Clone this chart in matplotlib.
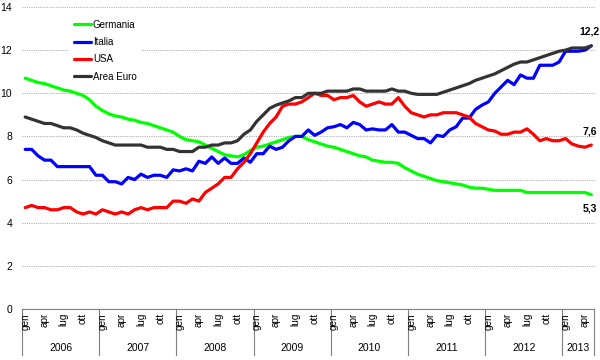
import matplotlib
matplotlib.use('Agg')
import matplotlib.pyplot as plt
from matplotlib.transforms import blended_transform_factory

plt.rcParams['font.family'] = ['Liberation Sans', 'DejaVu Sans']

years = [2006, 2007, 2008, 2009, 2010, 2011, 2012, 2013]
months_in_year = [12, 12, 12, 12, 12, 12, 12, 5]
month_names = ['gen', 'feb', 'mar', 'apr', 'mag', 'giu', 'lug', 'ago', 'set', 'ott', 'nov', 'dic']
shown_months = ['gen', 'apr', 'lug', 'ott']
y_ticks = [0, 2, 4, 6, 8, 10, 12, 14]

germania = [
    10.7, 10.6, 10.5, 10.45, 10.35, 10.25, 10.15, 10.1, 10.0, 9.9, 9.7, 9.4,
    9.2, 9.05, 8.95, 8.9, 8.8, 8.75, 8.65, 8.6, 8.5, 8.4, 8.3, 8.2,
    8.0, 7.85, 7.8, 7.75, 7.6, 7.45, 7.3, 7.15, 7.1, 7.05, 7.15, 7.35,
    7.5, 7.55, 7.65, 7.75, 7.85, 7.95, 8.0, 8.0, 7.85, 7.75, 7.65, 7.55,
    7.5, 7.4, 7.3, 7.2, 7.1, 7.05, 6.9, 6.85, 6.8, 6.8, 6.75, 6.55,
    6.4, 6.25, 6.15, 6.05, 5.95, 5.9, 5.85, 5.8, 5.75, 5.65, 5.6, 5.6,
    5.55, 5.5, 5.5, 5.5, 5.5, 5.5, 5.4, 5.4, 5.4, 5.4, 5.4, 5.4,
    5.4, 5.4, 5.4, 5.4, 5.3,
]
italia = [
    7.4, 7.4, 7.1, 6.9, 6.9, 6.6, 6.6, 6.6, 6.6, 6.6, 6.6, 6.2,
    6.2, 5.9, 5.9, 5.8, 6.1, 6.0, 6.25, 6.1, 6.2, 6.2, 6.1, 6.45,
    6.4, 6.5, 6.4, 6.85, 6.75, 7.05, 6.75, 7.0, 6.75, 6.75, 7.0, 6.8,
    7.2, 7.2, 7.55, 7.4, 7.5, 7.8, 8.0, 8.0, 8.3, 8.05, 8.2, 8.4,
    8.45, 8.55, 8.4, 8.65, 8.55, 8.3, 8.35, 8.3, 8.3, 8.55, 8.2, 8.2,
    8.05, 7.9, 7.9, 7.7, 8.05, 8.0, 8.3, 8.45, 8.85, 8.85, 9.25, 9.45,
    9.6, 10.0, 10.3, 10.6, 10.4, 10.85, 10.7, 10.7, 11.3, 11.3, 11.3, 11.45,
    11.95, 11.95, 11.95, 12.0, 12.2,
]
usa = [
    4.7, 4.8, 4.7, 4.7, 4.6, 4.6, 4.7, 4.7, 4.5, 4.4, 4.5, 4.4,
    4.6, 4.5, 4.4, 4.5, 4.4, 4.6, 4.7, 4.6, 4.7, 4.7, 4.7, 5.0,
    5.0, 4.9, 5.1, 5.0, 5.4, 5.6, 5.8, 6.1, 6.1, 6.5, 6.8, 7.2,
    7.7, 8.2, 8.6, 8.9, 9.4, 9.5, 9.5, 9.6, 9.8, 10.0, 9.9, 9.9,
    9.7, 9.8, 9.8, 9.9, 9.6, 9.4, 9.5, 9.6, 9.5, 9.5, 9.8, 9.4,
    9.1, 9.0, 8.9, 9.0, 9.0, 9.1, 9.1, 9.1, 9.0, 8.9, 8.6, 8.45,
    8.3, 8.25, 8.1, 8.1, 8.2, 8.2, 8.35, 8.1, 7.8, 7.9, 7.8, 7.8,
    7.9, 7.65, 7.55, 7.5, 7.6,
]
area_euro = [
    8.9, 8.8, 8.7, 8.6, 8.6, 8.5, 8.4, 8.4, 8.3, 8.15, 8.05, 7.95,
    7.8, 7.7, 7.6, 7.6, 7.6, 7.6, 7.6, 7.5, 7.5, 7.5, 7.4, 7.4,
    7.3, 7.3, 7.3, 7.5, 7.5, 7.6, 7.6, 7.7, 7.7, 7.8, 8.1, 8.3,
    8.7, 9.0, 9.3, 9.45, 9.55, 9.65, 9.8, 9.8, 10.0, 10.0, 10.0, 10.1,
    10.1, 10.1, 10.1, 10.2, 10.2, 10.1, 10.1, 10.1, 10.1, 10.2, 10.1, 10.1,
    10.0, 9.95, 9.95, 9.95, 9.95, 10.05, 10.15, 10.25, 10.35, 10.45, 10.6, 10.7,
    10.8, 10.9, 11.05, 11.2, 11.35, 11.45, 11.45, 11.55, 11.65, 11.75, 11.85, 11.95,
    12.0, 12.1, 12.1, 12.1, 12.2,
]

series = [
    ('Germania', germania, '#00ff00'),
    ('Italia', italia, '#0000ff'),
    ('USA', usa, '#ff0000'),
    ('Area Euro', area_euro, '#333333'),
]

fig = plt.figure(figsize=(6, 3.6), dpi=100)
ax = fig.add_axes([22 / 600, 51 / 360, 572.5 / 600, 302 / 360])

n = len(germania)
xs = list(range(n))
for name, vals, col in series:
    ax.plot(xs, vals, color=col, lw=2.3, label=name, solid_joinstyle='round',
            solid_capstyle='round')

ax.set_xlim(-0.5, n - 0.5)
ax.set_ylim(0, 14)
ax.set_yticks(y_ticks)
ax.set_yticklabels([str(v) for v in y_ticks], fontsize=7.5)
ax.tick_params(axis='y', length=0, pad=7)
ax.set_xticks([])
ax.grid(axis='y', color='#b0b0b0', linestyle=(0, (1, 1)), linewidth=0.8)
ax.set_axisbelow(True)
for s in ['left', 'right', 'top']:
    ax.spines[s].set_visible(False)
ax.spines['bottom'].set_color('#808080')
ax.spines['bottom'].set_linewidth(0.8)

# category axis (months + years)
tr = blended_transform_factory(ax.transData, ax.transAxes)
axh = 302.0
start = 0
for yr, nm in zip(years, months_in_year):
    for k in range(nm):
        if month_names[k] in shown_months:
            ax.text(start + k, -4 / axh, month_names[k], transform=tr, rotation=90,
                    ha='center', va='top', fontsize=7.2, clip_on=False)
    ax.text(start + (nm - 1) / 2.0, -39 / axh, str(yr), transform=tr,
            ha='center', va='center', fontsize=7.5, clip_on=False)
    ax.plot([start - 0.5, start - 0.5], [0, -46 / axh], transform=tr, color='#808080',
            lw=0.8, clip_on=False)
    start += nm
ax.plot([start - 0.5, start - 0.5], [0, -46 / axh], transform=tr, color='#808080',
        lw=0.8, clip_on=False)

# data labels at the end
def fmt(v):
    return ('%.1f' % v).replace('.', ',')

ax.annotate(fmt(area_euro[-1]), (n - 1, area_euro[-1]), xytext=(-1, 7),
            textcoords='offset points', ha='center', va='bottom', fontsize=7.5,
            fontweight='bold', annotation_clip=False)
ax.annotate(fmt(usa[-1]), (n - 1, usa[-1]), xytext=(-1, 6),
            textcoords='offset points', ha='center', va='bottom', fontsize=7.5,
            fontweight='bold', annotation_clip=False)
ax.annotate(fmt(germania[-1]), (n - 1, germania[-1]), xytext=(-1, -6),
            textcoords='offset points', ha='center', va='top', fontsize=7.5,
            fontweight='bold', annotation_clip=False)

leg = ax.legend(loc='upper left', bbox_to_anchor=(69 / 600, 1 - 15 / 360),
                bbox_transform=fig.transFigure, fontsize=7, frameon=True,
                handlelength=1.8, handletextpad=0.15, labelspacing=0.75,
                borderpad=0.5, borderaxespad=0)
leg.get_frame().set_facecolor('white')
leg.get_frame().set_edgecolor('none')
leg.get_frame().set_alpha(1)
for h in leg.get_lines():
    h.set_linewidth(2.3)

fig.savefig('out.png', dpi=100)
